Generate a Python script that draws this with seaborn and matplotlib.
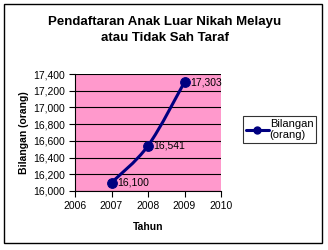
import matplotlib
matplotlib.use("Agg")
import matplotlib.pyplot as plt
import seaborn as sns
import pandas as pd
from matplotlib.patches import Rectangle, PathPatch
from matplotlib.path import Path
from matplotlib.lines import Line2D
from matplotlib.ticker import FuncFormatter

years = [2007, 2008, 2009]
counts = [16100, 16541, 17303]
labels = ["16,100", "16,541", "17,303"]
series_name = "Bilangan\n(orang)"
title = "Pendaftaran Anak Luar Nikah Melayu\natau Tidak Sah Taraf"

sns.set_theme(style="white")
plt.rcParams['font.family'] = ['Liberation Sans', 'DejaVu Sans']
plt.rcParams['text.color'] = 'black'
plt.rcParams['axes.labelcolor'] = 'black'
plt.rcParams['xtick.color'] = 'black'
plt.rcParams['ytick.color'] = 'black'

W, H = 328, 250
fig = plt.figure(figsize=(W / 100, H / 100), dpi=100)
fig.patch.set_facecolor("white")
L, R, T, B = 75, 221, 74, 191
ax = fig.add_axes([L / W, 1 - B / H, (R - L) / W, (B - T) / H])
ax.set_facecolor("#FF99CC")

df = pd.DataFrame({"Tahun": years, "Bilangan": counts})
navy = "#000080"
sns.lineplot(data=df, x="Tahun", y="Bilangan", ax=ax, color=navy, linewidth=2.2,
             marker="o", markersize=7, markeredgecolor=navy, markerfacecolor=navy,
             legend=False, zorder=4)
# smoothed connecting line (Excel-style), drawn from the same data
ax.lines[0].set_linestyle("None")
pts = list(zip(years, counts))
ext = [pts[0]] + pts + [pts[-1]]
verts = [pts[0]]
codes = [Path.MOVETO]
for i in range(1, len(ext) - 2):
    p0, p1, p2, p3 = ext[i - 1], ext[i], ext[i + 1], ext[i + 2]
    c1 = (p1[0] + (p2[0] - p0[0]) / 6, p1[1] + (p2[1] - p0[1]) / 6)
    c2 = (p2[0] - (p3[0] - p1[0]) / 6, p2[1] - (p3[1] - p1[1]) / 6)
    verts += [c1, c2, p2]
    codes += [Path.CURVE4] * 3
ax.add_patch(PathPatch(Path(verts, codes), fill=False, edgecolor=navy,
                       linewidth=2.2, zorder=3, capstyle="round"))

for x, y, s in zip(years, counts, labels):
    ax.annotate(s, (x, y), xytext=(4, 0), textcoords="offset points",
                ha="left", va="center", fontsize=7.5, color="black", zorder=5)

ax.set_xlim(2006, 2010)
ax.set_ylim(16000, 17400)
ax.set_xticks([2006, 2007, 2008, 2009, 2010])
ax.set_yticks(range(16000, 17401, 200))
ax.yaxis.set_major_formatter(FuncFormatter(lambda v, p: f"{int(v):,}"))
ax.grid(axis="y", color="black", linewidth=0.8)
ax.set_axisbelow(True)
for s in ["top", "right"]:
    ax.spines[s].set_visible(False)
for s in ["left", "bottom"]:
    ax.spines[s].set_color("black")
    ax.spines[s].set_linewidth(0.8)
ax.tick_params(axis="both", which="both", direction="out", length=4, width=0.8,
               color="black", labelsize=7.5, pad=3, left=True, bottom=True)
ax.set_xlabel("Tahun", fontsize=7.5, fontweight="bold", labelpad=8)
ax.set_ylabel("Bilangan (orang)", fontsize=7.5, fontweight="bold", labelpad=3)

fig.text(165 / W, 1 - 30 / H, title, ha="center", va="center", fontsize=9.5,
         fontweight="bold", linespacing=1.4)

handle = Line2D([], [], color=navy, linewidth=2.2, marker="o", markersize=5,
                markerfacecolor=navy, markeredgecolor=navy)
leg = fig.legend([handle], [series_name], loc="upper left",
                 bbox_to_anchor=(243 / W, 1 - 116 / H), frameon=True,
                 fontsize=8, handlelength=2.1, handletextpad=0.05,
                 borderpad=0.25, borderaxespad=0, fancybox=False)
leg.get_frame().set_edgecolor("black")
leg.get_frame().set_linewidth(0.8)

fig.patches.append(Rectangle((4 / W, 1 - 243 / H), (322 - 4) / W, (243 - 4) / H,
                             transform=fig.transFigure, fill=False,
                             edgecolor="black", linewidth=1))

fig.savefig("out.png", dpi=100)
